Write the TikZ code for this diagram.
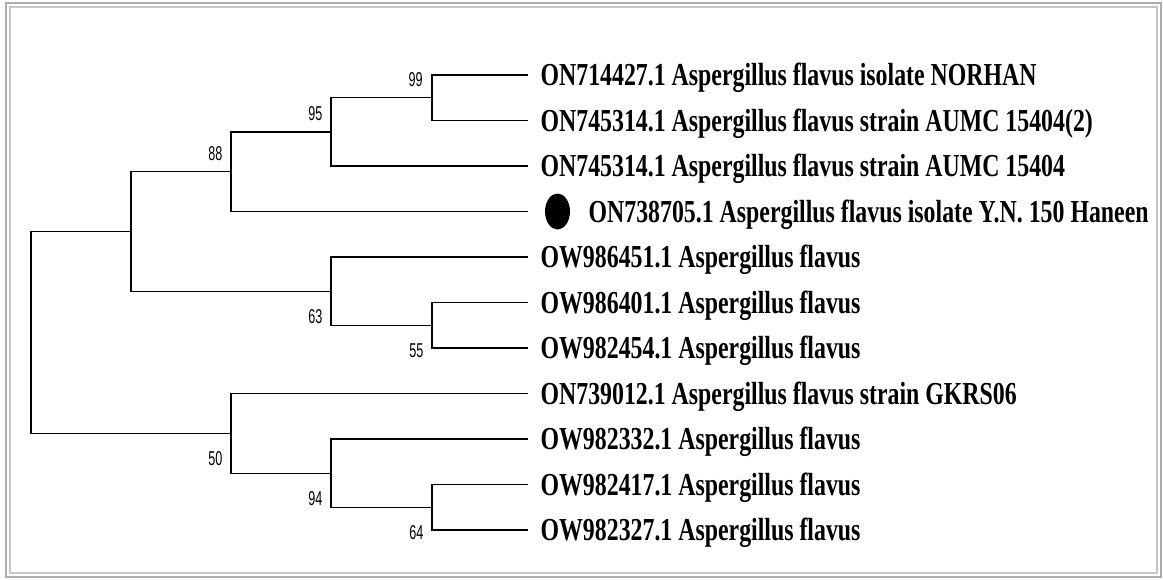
\documentclass[tikz,border=0pt]{standalone}
\usepackage{fontspec}
\setmainfont{Liberation Serif}
\newfontfamily\leaffont[FakeStretch=0.745]{Liberation Serif}
\newfontfamily\bootfont[FakeStretch=0.63]{Liberation Sans}
\usetikzlibrary{positioning,shapes.geometric}

\begin{document}
\begin{tikzpicture}[x=0.75pt, y=-0.75pt, line width=0.9pt,
    leaf/.style={anchor=west, inner xsep=9pt, inner ysep=0pt, text height=15.9pt, text depth=0pt,
                 font=\leaffont\bfseries\fontsize{24}{26}\selectfont},
    boot/.style={inner sep=0pt, text height=11pt, text depth=0pt,
                 font=\bootfont\fontsize{15}{16}\selectfont},
    mark dot/.style={ellipse, fill=black, inner sep=0pt, minimum width=18.75pt, minimum height=27pt},
    outer frame/.style={draw=gray!65, line width=1.3pt}]
    % 外框：灰色双线
    \useasboundingbox (0,0) rectangle (1163,579);
    \draw[outer frame] (6,3) rectangle (1161,577);
    \draw[outer frame, draw=gray!45] (10,7) rectangle (1157,573);

    % 叶节点：序列名称
    \node[leaf] (l1) at (528,75) {ON714427.1 Aspergillus flavus isolate NORHAN};
    \node[leaf] (l2) at (528,120.5) {ON745314.1 Aspergillus flavus strain AUMC 15404(2)};
    \node[leaf] (l3) at (528,166) {ON745314.1 Aspergillus flavus strain AUMC 15404};
    \coordinate (t4) at (528,211.5);
    \node[mark dot] (dot) at (557.5,211.5) {};
    \node[leaf, inner xsep=0pt] (l4) at (588,211.5) {ON738705.1 Aspergillus flavus isolate Y.N. 150 Haneen};
    \node[leaf] (l5) at (528,257) {OW986451.1 Aspergillus flavus};
    \node[leaf] (l6) at (528,302.5) {OW986401.1 Aspergillus flavus};
    \node[leaf] (l7) at (528,348) {OW982454.1 Aspergillus flavus};
    \node[leaf] (l8) at (528,393.5) {ON739012.1 Aspergillus flavus strain GKRS06};
    \node[leaf] (l9) at (528,439) {OW982332.1 Aspergillus flavus};
    \node[leaf] (l10) at (528,484.5) {OW982417.1 Aspergillus flavus};
    \node[leaf] (l11) at (528,530) {OW982327.1 Aspergillus flavus};

    % 内部节点
    \coordinate (n99) at (432,97.75);
    \coordinate (n95) at (331,131.9);
    \coordinate (n88) at (231,171.7);
    \coordinate (n1) at (131,231.4);
    \coordinate (n63) at (331,291.1);
    \coordinate (n55) at (432,325.25);
    \coordinate (root) at (31,332.4);
    \coordinate (n50) at (231,433.3);
    \coordinate (n94) at (331,473.1);
    \coordinate (n64) at (432,507.25);

    % 分支
    \draw (l1.west) -| (n99) |- (l2.west);
    \draw (n99) -| (n95) |- (l3.west);
    \draw (n95) -| (n88) |- (t4);
    \draw (n88) -| (n1) |- (n63);
    \draw (l5.west) -| (n63) |- (n55);
    \draw (l6.west) -| (n55) |- (l7.west);
    \draw (n1) -| (root) |- (n50);
    \draw (l8.west) -| (n50) |- (n94);
    \draw (l9.west) -| (n94) |- (n64);
    \draw (l10.west) -| (n64) |- (l11.west);

    % 自展值
    \node[boot, above left=8pt and 6.5pt of n99] (b99) {99};
    \node[boot, above left=8.25pt and 6pt of n95] (b95) {95};
    \node[boot, above left=8.25pt and 6pt of n88] (b88) {88};
    \node[boot, below left=12.75pt and 6pt of n63] (b63) {63};
    \node[boot, below left=12.75pt and 6pt of n55] (b55) {55};
    \node[boot, below left=12.75pt and 6pt of n50] (b50) {50};
    \node[boot, below left=12.75pt and 6pt of n94] (b94) {94};
    \node[boot, below left=12.75pt and 6pt of n64] (b64) {64};
\end{tikzpicture}
\end{document}
